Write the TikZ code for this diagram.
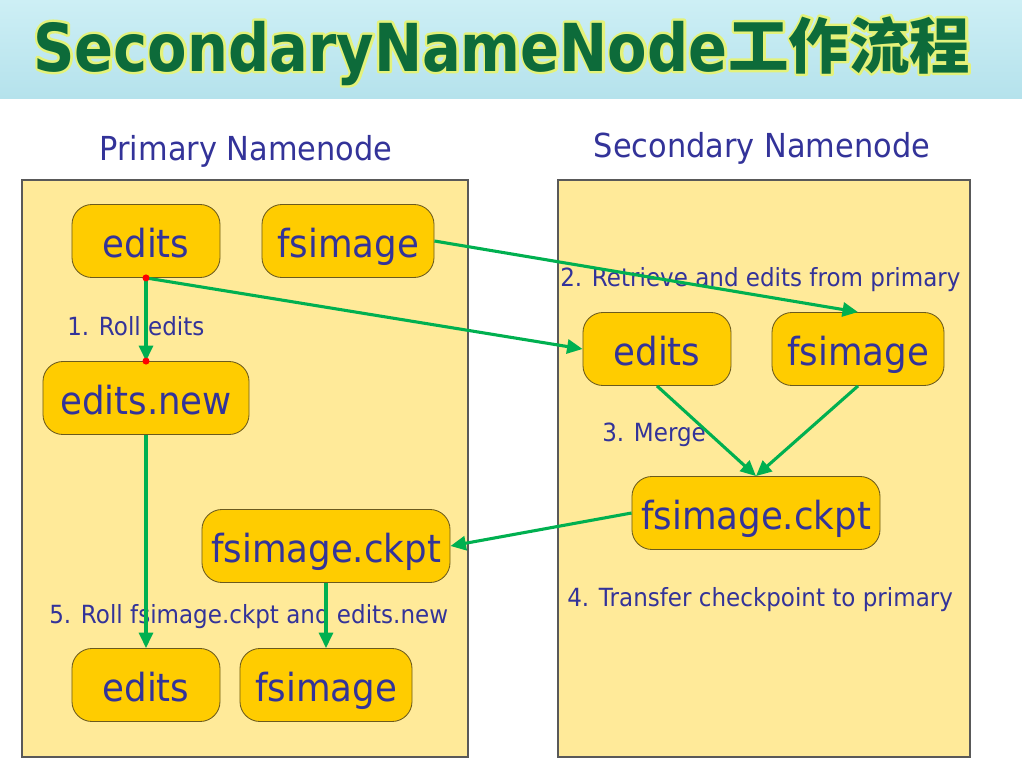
\documentclass[tikz,border=0pt]{standalone}
\usepackage{fontspec}
\setmainfont[FakeStretch=0.92]{DejaVu Sans}
\newfontfamily\titlefont[FakeStretch=0.87]{DejaVu Sans}
\newfontfamily\cjkfont{Noto Sans CJK SC}
\usetikzlibrary{arrows.meta}

\definecolor{skytop}{HTML}{CDEFF5}
\definecolor{skybottom}{HTML}{B5E2EC}
\definecolor{titlegreen}{HTML}{0D6B3A}
\definecolor{titleglow}{HTML}{E4F27A}
\definecolor{panelfill}{HTML}{FFEA99}
\definecolor{boxfill}{HTML}{FFCC00}
\definecolor{boxline}{HTML}{6B5A1E}
\definecolor{txtblue}{HTML}{333399}
\definecolor{flowgreen}{HTML}{00B050}

% outlined copy of a text, drawn under the text itself
\newcommand{\haloed}[1]{\rlap{\color{titleglow}\special{pdf:literal direct 1 Tr 3.5 w 1 j}#1\special{pdf:literal direct 0 Tr}}#1}

\begin{document}
\begin{tikzpicture}[x=0.025cm, y=-0.025cm,
    panel/.style={draw=black!65, line width=0.8pt, fill=panelfill},
    file/.style={draw=boxline, line width=0.6pt, fill=boxfill, rounded corners=0.5cm,
        text=txtblue, font=\fontsize{27.5}{27.5}\selectfont, inner sep=0pt,
        text height=24pt, text depth=0pt, minimum height=1.825cm},
    steplabel/.style={text=txtblue, font=\fontsize{17.8}{17.8}\selectfont, anchor=base west, inner sep=0pt},
    heading/.style={text=txtblue, font=\fontsize{23.5}{23.5}\selectfont, anchor=base, inner sep=0pt},
    titletext/.style={font=\titlefont\bfseries\fontsize{47}{47}\selectfont, anchor=base west, inner sep=0pt},
    cjktext/.style={font=\cjkfont\bfseries\fontsize{43}{43}\selectfont, anchor=base west, inner sep=0pt},
    flow/.style={-{Triangle[length=11pt, width=10pt]}, flowgreen, line width=2.2pt},
    glue/.style={circle, fill=red, inner sep=0pt, minimum size=5pt}]
    \useasboundingbox (0,0) rectangle (1022,777);

    % Header
    \shade[top color=skytop, bottom color=skybottom] (0,0) rectangle (1022,98);
    \node[titletext, text=titlegreen] (title) at (33, 71) {\haloed{SecondaryNameNode}};
    \node[cjktext, text=titlegreen] (titlecn) at (728, 68) {\haloed{工作流程}};

    % Panels
    \draw[panel] (22,180) rectangle (468,757);
    \draw[panel] (558,180) rectangle (970,757);
    \node[heading] (primary) at (246,160) {Primary Namenode};
    \node[heading] (secondary) at (762,157) {Secondary Namenode};

    % Files
    \node[file, minimum width=3.7cm] (edits1) at (146,241) {edits};
    \node[file, minimum width=4.3cm] (fsimage1) at (348,241) {fsimage};
    \node[file, minimum width=5.15cm] (editsnew) at (146,398) {edits.new};
    \node[file, minimum width=3.7cm] (edits2) at (657,349) {edits};
    \node[file, minimum width=4.3cm] (fsimage2) at (858,349) {fsimage};
    \node[file, minimum width=6.2cm] (ckpt2) at (756,513) {fsimage.ckpt};
    \node[file, minimum width=6.2cm] (ckpt1) at (326,546) {fsimage.ckpt};
    \node[file, minimum width=3.7cm] (edits3) at (146,685) {edits};
    \node[file, minimum width=4.3cm] (fsimage3) at (326,685) {fsimage};

    % Steps
    \node[steplabel] (roll) at (67,335) {1. Roll edits};
    \node[steplabel] (retrieve) at (560,286) {2. Retrieve and edits from primary};
    \node[steplabel] (merge) at (602,441) {3. Merge};
    \node[steplabel] (transfer) at (567,606) {4. Transfer checkpoint to primary};
    \node[steplabel] (rollckpt) at (49,623) {5. Roll fsimage.ckpt and edits.new};

    % Flow
    \draw[flow] (edits1.south) -- (editsnew.north);
    \draw[flow] (edits1.south) -- (edits2.west);
    \draw[flow] (fsimage1.east) -- (fsimage2.north);
    \draw[flow] (edits2.south) -- (ckpt2.north);
    \draw[flow] (fsimage2.south) -- (ckpt2.north);
    \draw[flow] (ckpt2.west) -- (ckpt1.east);
    \draw[flow] (editsnew.south) -- (edits3.north);
    \draw[flow] (ckpt1.south) -- (fsimage3.north);
    \node[glue] (gluetop) at (edits1.south) {};
    \node[glue] (gluebottom) at (editsnew.north) {};
\end{tikzpicture}
\end{document}
